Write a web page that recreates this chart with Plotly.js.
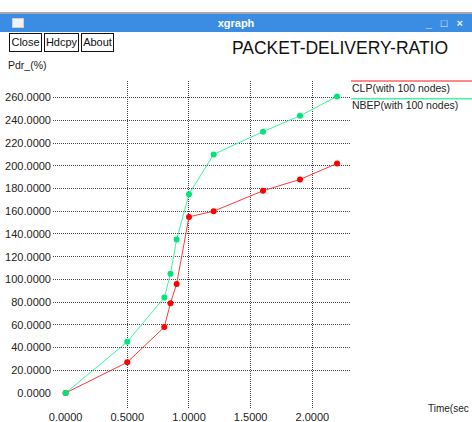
<!DOCTYPE html>
<html>
<head>
<meta charset="utf-8">
<script src="https://cdn.plot.ly/plotly-3.0.1.min.js"></script>
<style>
  html, body { margin: 0; padding: 0; background: #fff; width: 472px; height: 422px; overflow: hidden; font-family: "Liberation Sans", Arial, sans-serif; }
  #chart { position: absolute; left: 0; top: 0; width: 472px; height: 422px; }
  .chrome { position: absolute; z-index: 5; }
  #topline { left: 0; top: 12px; width: 472px; height: 2px; background: #a8a8a8; }
  #titlebar { left: 0; top: 14px; width: 472px; height: 18px; background: #3b8de3; color: #fff; font-weight: bold; font-size: 11px; text-align: center; line-height: 18px; }
  #icon { left: 12px; top: 18px; width: 10px; height: 8px; background: #f2f2f2; border: 1px solid #ccd; }
  #winbtns { right: 6px; top: 14px; height: 18px; line-height: 18px; color: #e8f0ff; font-size: 11px; font-weight: bold; letter-spacing: 3px; }
  .btn { position: absolute; z-index: 5; top: 33px; border: 1px solid #111; background: #fff; font-size: 11px; line-height: 17px; text-align: center; color: #111; box-sizing: border-box; height: 19px; }
</style>
</head>
<body>
<div id="chart"></div>
<div class="chrome" id="topline"></div>
<div class="chrome" id="titlebar">xgraph</div>
<div class="chrome" id="icon"></div>
<div class="chrome" id="winbtns">_ &#9633; &#215;</div>
<div class="btn" style="left:9px;width:33px;">Close</div>
<div class="btn" style="left:44px;width:35px;">Hdcpy</div>
<div class="btn" style="left:81px;width:33px;">About</div>
<script>
// ---- data ----
var time = [0, 0.5, 0.8, 0.85, 0.9, 1.0, 1.2, 1.6, 1.9, 2.2];
var clp  = [0, 27, 58, 79, 96, 155, 160, 178, 188, 202];
var nbep = [0, 45, 84, 105, 135, 175, 210, 230, 244, 261];
var seriesNames = ["CLP(with 100 nodes)", "NBEP(with 100 nodes)"];
var chartTitle = "PACKET-DELIVERY-RATIO";
var yLabel = "Pdr_(%)";
var xLabel = "Time(sec";

var FONT = "Liberation Sans, Arial, sans-serif";
var traces = [
  { x: time, y: clp, name: seriesNames[0], mode: "lines+markers",
    line: { color: "#ff3b3b", width: 1 }, marker: { color: "#ff0000", size: 6, symbol: "circle" } },
  { x: time, y: nbep, name: seriesNames[1], mode: "lines+markers",
    line: { color: "#3cf5a0", width: 1 }, marker: { color: "#00e676", size: 6, symbol: "circle" } }
];

var axisCommon = {
  showgrid: true, gridcolor: "#444", griddash: "1px,1px", gridwidth: 1,
  zeroline: true, zerolinecolor: "rgba(0,0,0,0)", zerolinewidth: 0,
  showline: false, ticks: "", tickformat: ".4f",
  tickfont: { family: FONT, size: 11, color: "#222" }, automargin: false
};

var layout = {
  width: 472, height: 422,
  margin: { l: 53, r: 122, t: 81, b: 13, pad: 0 },
  paper_bgcolor: "rgba(0,0,0,0)", plot_bgcolor: "#fff",
  showlegend: false,
  font: { family: FONT, color: "#111" },
  title: { text: chartTitle, font: { family: FONT, size: 17.5, color: "#111" },
           xref: "container", yref: "container", x: 340 / 472, xanchor: "center", y: 1 - 48 / 422, yanchor: "middle" },
  xaxis: Object.assign({}, axisCommon, { range: [-0.102, 2.305], dtick: 0.5, tick0: 0, ticklabelstandoff: 0 }),
  yaxis: Object.assign({}, axisCommon, { range: [-14.1, 274.6], dtick: 20, tick0: 0, ticklabelstandoff: 1 }),
  annotations: [
    { text: yLabel, xref: "paper", yref: "paper", x: -0.155, y: 1.049, xanchor: "left", yanchor: "middle", showarrow: false, borderpad: 0, font: { family: FONT, size: 10.5, color: "#222" } },
    { text: xLabel, xref: "paper", yref: "paper", x: 1.258, y: 0.003, xanchor: "left", yanchor: "middle", showarrow: false, borderpad: 0, font: { family: FONT, size: 10, color: "#222" } },
    { text: seriesNames[0], xref: "paper", yref: "paper", x: 1.0034, y: 0.980, xanchor: "left", yanchor: "middle", showarrow: false, borderpad: 0, font: { family: FONT, size: 10.5, color: "#222" } },
    { text: seriesNames[1], xref: "paper", yref: "paper", x: 1.0034, y: 0.928, xanchor: "left", yanchor: "middle", showarrow: false, borderpad: 0, font: { family: FONT, size: 10.5, color: "#222" } }
  ],
  shapes: [
    { type: "line", xref: "paper", yref: "paper", x0: 1.0034, x1: 1.42, y0: 1.0, y1: 1.0, line: { color: "#ff6060", width: 1.5 } },
    { type: "line", xref: "paper", yref: "paper", x0: 1.0034, x1: 1.42, y0: 0.946, y1: 0.946, line: { color: "#40f5a0", width: 1.5 } }
  ]
};

Plotly.newPlot("chart", traces, layout, { displayModeBar: false, staticPlot: true });
</script>
</body>
</html>
